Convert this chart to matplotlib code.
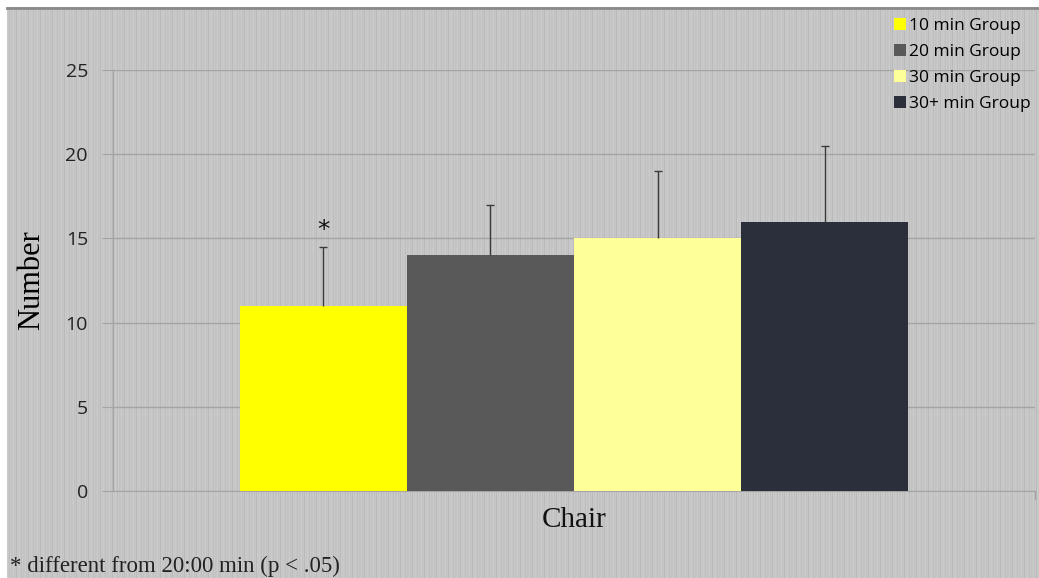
import numpy as np
import matplotlib
matplotlib.use("Agg")
import matplotlib.pyplot as plt
from matplotlib.patches import Patch

# ---- data ----
groups = ["10 min Group", "20 min Group", "30 min Group", "30+ min Group"]
means = [11, 14, 15, 16]
errors = [3.5, 3.0, 4.0, 4.5]
category = "Chair"
y_ticks = [0, 5, 10, 15, 20, 25]
colors = ["#ffff00", "#595959", "#ffff99", "#2b2e3b"]
footnote = "* different from 20:00 min (p < .05)"

W, H = 1039, 578
fig = plt.figure(figsize=(W / 100, H / 100), dpi=100)
fig.patch.set_facecolor("white")

# striped grey background
bg = fig.add_axes([7 / W, 0, 1 - 7 / W, 1 - 7 / H], zorder=-5)
pattern = np.array([0.79, 0.78, 0.74, 0.79, 0.76, 0.77, 0.80, 0.75, 0.78, 0.73, 0.79, 0.77])
row = np.tile(pattern, (W // len(pattern)) + 1)[: W - 7]
img = np.tile(row, (2, 1))
bg.imshow(img, cmap="gray", vmin=0, vmax=1, aspect="auto", interpolation="nearest")
bg.set_axis_off()
fig.add_artist(plt.Line2D([7 / W, 1], [1 - 7.5 / H, 1 - 7.5 / H], color="#8a8a8a", lw=2,
                          transform=fig.transFigure))

ax = fig.add_axes([113 / W, 87 / H, (1035 - 113) / W, (491 - 70) / H])
ax.set_facecolor("none")

x = np.arange(len(groups))
tops = np.array(means) + np.array(errors)
ax.bar(x, means, width=1.0, color=colors, zorder=3)
ax.vlines(x, means, tops, color="#3a3a3a", lw=1.0, zorder=4)
ax.plot(x, tops, linestyle="none", marker="_", markersize=6, mew=1.0, color="#3a3a3a", zorder=4)

ax.set_xlim(-1.26, 4.26)
ax.set_ylim(0, 25)
ax.set_yticks(y_ticks)
ax.set_yticklabels([str(v) for v in y_ticks], fontsize=14, family="Open Sans", color="#222222")
ax.set_xticks([])
ax.yaxis.grid(True, color="#a4a4a4", lw=1.0, zorder=0)
ax.tick_params(axis="y", length=8, color="#a4a4a4", pad=10)
for s in ["top", "right"]:
    ax.spines[s].set_visible(False)
ax.spines["left"].set_color("#a4a4a4")
ax.spines["bottom"].set_color("#a4a4a4")
ax.plot([1, 1], [0, -0.018], transform=ax.transAxes, color="#a4a4a4", lw=1, clip_on=False)

ax.set_ylabel("Number", fontsize=22, family="Liberation Serif", labelpad=14)
ax.text(0.5, -0.07, category, transform=ax.transAxes, ha="center", va="center",
        fontsize=21, family="Liberation Serif", color="#111111")

ax.text(x[0], tops[0] + 1.0, "*", ha="center", va="center", fontsize=18,
        color="#111111")

handles = [Patch(facecolor=c, edgecolor="none") for c in colors]
fig.legend(handles, groups, loc="upper left", bbox_to_anchor=(894 / W, 1 - 18 / H),
           frameon=False, prop={"family": "Open Sans", "size": 12.5},
           handlelength=0.7, handleheight=0.7, handletextpad=0.15,
           labelspacing=0.56, borderaxespad=0, borderpad=0)

fig.text(10 / W, 1 - 566 / H, footnote, ha="left", va="center", fontsize=16.5,
         family="Liberation Serif", color="#222222")

fig.savefig("out.png", dpi=100)
